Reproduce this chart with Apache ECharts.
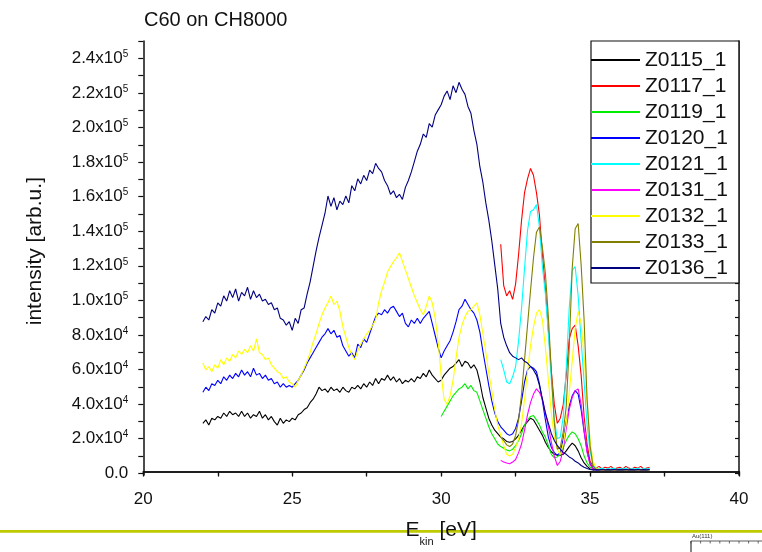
<!DOCTYPE html>
<html><head><meta charset="utf-8">
<script src="https://cdn.jsdelivr.net/npm/echarts@6/dist/echarts.min.js"></script>
<style>html,body{margin:0;padding:0;background:#fff}#c{width:762px;height:552px}</style>
</head><body><div id="c"></div>
<script>
// Kinetic energy grid [eV]; every series ends at 37.0 eV
const energy = [22.0,22.1,22.2,22.3,22.4,22.5,22.6,22.7,22.8,22.9,
23.0,23.1,23.2,23.3,23.4,23.5,23.6,23.7,23.8,23.9,
24.0,24.1,24.2,24.3,24.4,24.5,24.6,24.7,24.8,24.9,
25.0,25.1,25.2,25.3,25.4,25.5,25.6,25.7,25.8,25.9,
26.0,26.1,26.2,26.3,26.4,26.5,26.6,26.7,26.8,26.9,
27.0,27.1,27.2,27.3,27.4,27.5,27.6,27.7,27.8,27.9,
28.0,28.1,28.2,28.3,28.4,28.5,28.6,28.7,28.8,28.9,
29.0,29.1,29.2,29.3,29.4,29.5,29.6,29.7,29.8,29.9,
30.0,30.1,30.2,30.3,30.4,30.5,30.6,30.7,30.8,30.9,
31.0,31.1,31.2,31.3,31.4,31.5,31.6,31.7,31.8,31.9,
32.0,32.1,32.2,32.3,32.4,32.5,32.6,32.7,32.8,32.9,
33.0,33.1,33.2,33.3,33.4,33.5,33.6,33.7,33.8,33.9,
34.0,34.1,34.2,34.3,34.4,34.5,34.6,34.7,34.8,34.9,
35.0,35.1,35.2,35.3,35.4,35.5,35.6,35.7,35.8,35.9,
36.0,36.1,36.2,36.3,36.4,36.5,36.6,36.7,36.8,36.9,
37.0];

// intensities in units of 1e4 arb.u.
const z0115 = [2.8,3.0,2.7,3.1,3.0,3.2,3.1,3.4,3.2,3.5,
3.3,3.4,3.2,3.5,3.2,3.4,3.1,3.3,3.2,3.5,
3.1,3.3,3.0,3.2,2.9,2.7,3.1,2.8,3.0,2.9,
3.1,3.0,3.3,3.4,3.6,3.7,4.0,4.2,4.5,4.9,
4.7,4.8,4.6,4.9,4.7,4.8,4.6,4.9,4.7,4.6,
4.9,4.8,5.0,4.8,5.1,4.9,5.2,5.0,5.4,5.1,
5.4,5.3,5.6,5.3,5.5,5.2,5.4,5.1,5.3,5.2,
5.4,5.2,5.5,5.4,5.7,5.5,5.9,5.6,5.4,5.2,
5.3,5.6,5.8,6.0,6.1,6.3,6.5,6.1,6.4,6.3,
6.0,6.2,5.9,5.2,4.3,3.7,3.1,2.7,2.4,2.2,
2.0,1.9,1.75,1.7,1.75,1.9,2.1,2.4,2.7,2.9,
3.1,3.0,2.7,2.4,2.1,1.7,1.4,1.15,1.0,0.95,
0.95,1.0,1.2,1.45,1.65,1.5,1.2,0.8,0.5,0.3,
0.15,0.1,0.12,0.1,0.11,0.1,0.12,0.1,0.11,0.1,
0.12,0.1,0.11,0.1,0.12,0.1,0.11,0.1,0.12,0.1,
0.11];

const z0117 = [13.2,10.8,10.2,10.5,10.0,10.9,12.6,14.6,16.2,17.0,
17.6,17.2,16.2,14.9,12.6,10.6,8.2,5.8,3.9,2.8,
3.1,3.9,5.6,7.7,8.3,8.5,7.3,5.6,3.2,1.6,
0.6,0.3,0.2,0.3,0.15,0.25,0.2,0.3,0.15,0.2,
0.25,0.15,0.3,0.2,0.15,0.25,0.2,0.3,0.15,0.2,
0.25];

const z0119 = [3.2,3.5,3.8,4.1,4.4,4.6,4.8,4.9,5.1,4.8,
5.0,4.7,4.6,4.1,3.6,3.1,2.6,2.2,1.9,1.6,
1.45,1.35,1.25,1.2,1.3,1.5,1.8,2.2,2.7,3.0,
3.2,3.25,3.0,2.7,2.3,2.0,1.5,1.0,0.8,0.85,
1.0,1.4,1.8,2.1,2.3,2.2,1.9,1.5,0.9,0.5,
0.25,0.15,0.1,0.12,0.1,0.11,0.1,0.12,0.1,0.11,
0.1,0.12,0.1,0.11,0.1,0.12,0.1,0.11,0.1,0.12,
0.1];

const z0120 = [4.6,4.9,4.7,5.1,5.0,5.3,5.1,5.5,5.3,5.6,
5.4,5.7,5.5,5.9,5.6,5.8,5.5,6.0,5.6,5.7,
5.4,5.6,5.3,5.4,5.1,5.2,4.9,5.1,4.9,5.0,
4.9,5.1,5.3,5.6,5.9,6.3,6.6,6.9,7.2,7.5,
7.8,8.0,8.3,8.0,8.2,7.8,7.9,7.3,7.0,6.7,
6.9,6.6,7.4,7.2,7.7,7.5,8.0,8.5,9.0,9.2,
9.1,9.4,9.2,9.5,9.6,9.3,9.0,9.2,8.6,8.4,
8.8,8.6,8.9,8.6,8.9,9.1,9.3,8.6,7.9,7.2,
6.6,7.0,7.3,7.6,8.1,8.7,9.4,9.6,10.0,9.7,
9.4,9.2,8.8,8.1,7.0,6.0,5.0,4.1,3.4,2.9,
2.6,2.4,2.2,2.1,2.2,2.5,3.1,4.1,5.2,5.9,
6.1,6.0,5.8,5.1,4.1,3.0,2.0,1.4,1.1,0.95,
1.1,1.9,2.9,3.8,4.4,4.7,4.5,3.6,2.3,1.2,
0.45,0.2,0.1,0.12,0.1,0.11,0.1,0.12,0.1,0.11,
0.1,0.12,0.1,0.11,0.1,0.12,0.1,0.11,0.1,0.12,
0.1];

const z0121 = [6.5,5.9,5.2,5.1,5.5,6.1,7.6,9.5,11.8,14.0,
15.1,15.2,15.5,14.2,11.9,10.3,8.0,5.3,3.0,1.9,
2.0,3.2,6.0,9.5,11.7,11.9,10.2,7.6,5.2,2.7,
1.2,0.4,0.2,0.15,0.2,0.12,0.18,0.15,0.2,0.12,
0.18,0.15,0.2,0.12,0.18,0.15,0.2,0.12,0.18,0.15,
0.2];

const z0131 = [0.65,0.55,0.5,0.45,0.55,0.7,1.1,1.6,2.4,3.3,
4.0,4.5,4.8,4.6,4.2,3.4,2.6,1.7,0.9,0.35,
0.6,1.3,2.5,3.6,4.3,4.7,4.8,3.9,2.4,1.1,
0.4,0.15,0.1,0.12,0.1,0.11,0.1,0.12,0.1,0.11,
0.1,0.12,0.1,0.11,0.1,0.12,0.1,0.11,0.1,0.12,
0.1];

const z0132 = [6.3,5.9,6.1,5.8,6.2,6.0,6.5,6.2,6.6,6.4,
6.8,6.6,7.0,6.8,7.1,6.9,7.3,7.0,7.7,6.9,
6.8,6.5,6.6,6.2,6.0,5.8,5.7,5.4,5.5,5.2,
5.1,4.9,5.3,5.6,6.0,6.4,6.9,7.5,8.0,8.6,
9.1,9.5,9.8,10.2,9.7,9.9,9.3,8.4,7.8,7.2,
6.8,6.5,7.0,7.4,7.7,8.0,8.2,8.5,8.8,9.8,
10.5,11.0,11.6,11.9,12.2,12.4,12.7,12.2,11.7,11.2,
10.7,10.2,9.8,9.4,9.1,9.6,10.2,9.8,8.9,7.5,
5.6,4.2,3.9,4.4,5.3,6.6,7.8,8.5,9.0,9.3,
9.4,9.6,9.8,9.1,8.0,6.9,5.7,4.7,3.6,2.7,
2.1,1.5,1.0,0.9,1.0,1.4,1.9,2.8,4.2,5.8,
7.3,8.4,9.2,9.4,8.8,7.2,5.3,3.4,2.0,1.3,
1.0,1.6,2.8,4.6,6.4,8.3,9.3,8.6,6.7,4.0,
1.8,0.6,0.2,0.12,0.1,0.11,0.1,0.12,0.1,0.11,
0.1,0.12,0.1,0.11,0.1,0.12,0.1,0.11,0.1,0.12,
0.1];

const z0133 = [2.0,1.8,1.55,1.45,1.6,2.1,3.0,4.5,6.5,8.5,
10.5,12.4,13.9,14.2,13.0,11.5,9.0,5.8,2.8,1.3,
1.4,2.3,3.8,7.2,11.8,14.1,14.4,12.0,8.8,4.2,
1.5,0.3,0.15,0.1,0.12,0.1,0.11,0.1,0.12,0.1,
0.11,0.1,0.12,0.1,0.11,0.1,0.12,0.1,0.11,0.1,
0.12];

const z0136 = [8.7,9.0,8.8,9.4,9.2,9.8,9.6,10.2,9.9,10.5,
10.1,10.6,9.9,10.4,10.2,10.7,10.0,10.5,10.1,10.3,
9.9,10.0,9.7,9.8,9.4,9.5,8.9,8.8,8.5,8.7,
8.2,8.9,8.6,9.4,9.5,10.3,11.0,11.9,12.8,13.6,
14.3,15.0,16.0,15.4,15.9,15.2,15.7,15.5,16.0,15.6,
16.6,16.3,17.0,16.7,17.2,16.9,17.5,17.3,17.9,17.6,
17.4,16.9,16.6,16.1,16.3,15.9,16.1,15.8,16.5,16.9,
17.4,18.0,18.6,19.0,19.6,19.4,20.2,20.0,20.7,21.0,
21.3,21.8,22.1,21.6,22.4,22.0,22.6,22.2,21.9,21.2,
20.8,19.8,19.0,17.7,16.8,15.6,14.6,13.4,12.0,10.6,
8.6,7.8,7.3,6.9,6.7,6.6,6.5,6.6,6.4,6.3,
6.1,5.9,5.6,5.0,4.2,3.4,2.8,2.2,1.8,1.5,
1.3,1.1,1.0,0.85,0.75,0.6,0.5,0.35,0.25,0.18,
0.12,0.1,0.11,0.1,0.12,0.1,0.11,0.1,0.12,0.1,
0.11,0.1,0.12,0.1,0.11,0.1,0.12,0.1,0.11,0.1,
0.12];

const seriesNames = ['Z0115_1','Z0117_1','Z0119_1','Z0120_1','Z0121_1','Z0131_1','Z0132_1','Z0133_1','Z0136_1'];
const seriesValues = [z0115,z0117,z0119,z0120,z0121,z0131,z0132,z0133,z0136];
const seriesColors = ['#000000','#ff0000','#00ee00','#0000ff','#00ffff','#ff00ff','#ffff00','#808000','#000080'];

const xTickLabels = ['20','25','30','35','40'];
const yTickLabels = ['0.0','2.0x10^4','4.0x10^4','6.0x10^4','8.0x10^4','1.0x10^5','1.2x10^5','1.4x10^5','1.6x10^5','1.8x10^5','2.0x10^5','2.2x10^5','2.4x10^5'];

const FONT = '"Liberation Sans", Arial, Helvetica, sans-serif';
const INK = '#111';

function pairs(vals) {
  const off = energy.length - vals.length;
  return vals.map((v, i) => [energy[off + i], v]);
}

function yLabel(v) {
  if (Math.abs(v - Math.round(v)) > 1e-6) return '';
  const k = Math.round(v);
  if (k % 2 !== 0) return '';
  const s = yTickLabels[k / 2];
  if (s === undefined) return '';
  const p = s.split('^');
  if (p.length === 1) return '{m|' + p[0] + '}';
  return '{m|' + p[0] + '}{e|' + p[1] + '}';
}

const chart = echarts.init(document.getElementById('c'), null, {renderer: 'canvas'});

const series = seriesNames.map((n, i) => ({
  name: n, type: 'line', xAxisIndex: 0, yAxisIndex: 0,
  data: pairs(seriesValues[i]),
  symbol: 'none', showSymbol: false, smooth: false,
  lineStyle: {width: 1.1, color: seriesColors[i]},
  itemStyle: {color: seriesColors[i]},
  emphasis: {disabled: true},
  animation: false, z: 2
}));

const insetTicks = [0,1,2,3,4,5,6,7].map(i => ({
  type: 'line', shape: {x1: 691 + i * 9.6, y1: 541, x2: 691 + i * 9.6, y2: 543.5},
  style: {stroke: '#444', lineWidth: 0.8}
}));

const option = {
  backgroundColor: '#fff',
  animation: false,
  textStyle: {fontFamily: FONT},
  title: {
    text: 'C60 on CH8000', left: 144, top: 10, padding: 0,
    textStyle: {fontFamily: FONT, fontSize: 20, fontWeight: 'normal', color: INK}
  },
  legend: {
    show: true, orient: 'vertical', left: 591, top: 41,
    padding: [6, 11, 2, 0], itemGap: 0,
    itemWidth: 49, itemHeight: 2, icon: 'rect',
    backgroundColor: '#fff', borderColor: INK, borderWidth: 1.2, borderRadius: 0,
    textStyle: {fontFamily: FONT, fontSize: 21, color: INK, lineHeight: 26},
    data: seriesNames, selectedMode: false, z: 10
  },
  grid: [
    {left: 143.3, right: 23, top: 41, bottom: 75.3, containLabel: false},
    {left: 143.3, right: 23, top: 41, bottom: 78.7, containLabel: false}
  ],
  xAxis: [
    {
      type: 'value', gridIndex: 0, position: 'bottom', min: 20, max: 40, interval: 2.5,
      axisLine: {show: true, lineStyle: {color: INK, width: 1.5}},
      axisTick: {show: true, inside: false, length: 5, lineStyle: {color: INK, width: 1.2}},
      axisLabel: {
        show: true, margin: 16, color: INK, fontFamily: FONT, fontSize: 17,
        formatter: v => (xTickLabels.indexOf(String(v)) >= 0 ? String(v) : '')
      },
      splitLine: {show: false},
      name: '{a|E}{s|kin}{a| [eV]}', nameLocation: 'middle', nameGap: 45,
      nameTextStyle: {
        color: INK, fontFamily: FONT,
        rich: {
          a: {fontSize: 21, lineHeight: 22, verticalAlign: 'top', color: INK, fontFamily: FONT},
          s: {fontSize: 11, lineHeight: 11, verticalAlign: 'top', padding: [16, 0, 0, 0], color: INK, fontFamily: FONT}
        }
      }
    },
    {
      type: 'value', gridIndex: 0, position: 'top', min: 20, max: 40, interval: 2.5,
      axisLine: {show: true, lineStyle: {color: INK, width: 1.5}},
      axisTick: {show: true, inside: true, length: 4, lineStyle: {color: INK, width: 1.2}},
      axisLabel: {show: false}, splitLine: {show: false}
    },
    {type: 'value', gridIndex: 1, min: 20, max: 40, show: false}
  ],
  yAxis: [
    {
      type: 'value', gridIndex: 0, position: 'left', min: -0.2, max: 25,
      axisLine: {show: true, lineStyle: {color: INK, width: 1.5}},
      axisTick: {show: false}, axisLabel: {show: false}, splitLine: {show: false}
    },
    {
      type: 'value', gridIndex: 0, position: 'right', min: -0.2, max: 25,
      axisLine: {show: true, lineStyle: {color: INK, width: 1.5}},
      axisTick: {show: false}, axisLabel: {show: false}, splitLine: {show: false}
    },
    {
      type: 'value', gridIndex: 1, position: 'left', min: 0, max: 25, interval: 1,
      axisLine: {show: false},
      axisTick: {show: true, inside: false, length: 5, lineStyle: {color: INK, width: 1.2}},
      axisLabel: {
        show: true, margin: 15, formatter: yLabel,
        rich: {
          m: {fontSize: 17, lineHeight: 18, color: INK, fontFamily: FONT, verticalAlign: 'middle'},
          e: {fontSize: 10, lineHeight: 10, color: INK, fontFamily: FONT, verticalAlign: 'top'}
        }
      },
      splitLine: {show: false},
      name: 'intensity [arb.u.]', nameLocation: 'middle', nameGap: 98, nameRotate: 90,
      nameTextStyle: {fontFamily: FONT, fontSize: 21, color: INK, padding: [0, 0, 0, 12]}
    },
    {
      type: 'value', gridIndex: 1, position: 'right', min: 0, max: 25, interval: 1,
      axisLine: {show: false},
      axisTick: {show: true, inside: true, length: 4, lineStyle: {color: INK, width: 1.2}},
      axisLabel: {show: false}, splitLine: {show: false}
    }
  ],
  graphic: [
    {type: 'rect', z: -10, silent: true, shape: {x: 0, y: 530, width: 762, height: 2.8}, style: {fill: '#bfca00'}},
    {type: 'group', silent: true, children: [
      {type: 'text', style: {x: 692, y: 533, text: 'Au(111)', fontSize: 6, fontFamily: FONT, fill: '#333'}},
      {type: 'line', shape: {x1: 691, y1: 541, x2: 762, y2: 541}, style: {stroke: '#333', lineWidth: 0.8}},
      {type: 'line', shape: {x1: 691, y1: 541, x2: 691, y2: 552}, style: {stroke: '#333', lineWidth: 1.2}}
    ].concat(insetTicks)}
  ],
  series: series
};
chart.setOption(option);
</script>
</body></html>
